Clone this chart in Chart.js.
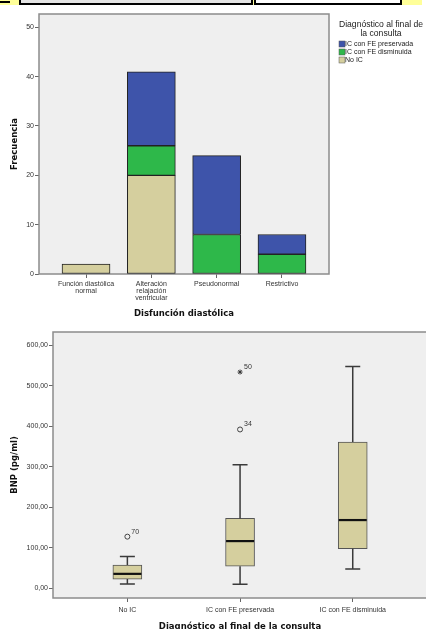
<!DOCTYPE html>
<html>
<head>
<meta charset="utf-8">
<script src="https://cdn.jsdelivr.net/npm/chart.js@4.4.0/dist/chart.umd.min.js"></script>
<style>
body { margin: 0; background: #fff; width: 426px; height: 629px; overflow: hidden; position: relative; }
canvas { position: absolute; left: 0; }
#bars { top: 0; }
#boxes { top: 320px; }
#strip { position: absolute; left: 0; top: 0; width: 422px; height: 5px; background: #ffff99; z-index: 2; }
#strip div { position: absolute; top: 0; height: 3px; border-bottom: 2px solid #000; }
</style>
</head>
<body>
<div id="strip">
    <div style="left:0;width:10px;height:2px;top:1px;background:#000;border:0"></div>
    <div style="left:19px;width:141px;background:#e4e4e4;border-left:2px solid #000;border-right:2px solid #000"></div>
    <div style="left:162px;width:89px;background:#e4e4e4;border-right:2px solid #000"></div>
    <div style="left:254px;width:61px;background:#fff;border-left:2px solid #000;border-right:2px solid #000"></div>
    <div style="left:317px;width:83px;background:#fff;border-right:2px solid #000"></div>
</div>
<canvas id="bars" width="426" height="320"></canvas>
<canvas id="boxes" width="432" height="315"></canvas>
<script>

/* =================================================================
    Data
================================================================= */

var categories = [
    ["Función diastólica", "normal"],
    ["Alteración", "relajación", "ventricular"],
    "Pseudonormal",
    "Restrictivo"
];
var noIC = [2, 20, 0, 0];
var icDisminuida = [0, 6, 8, 4];
var icPreservada = [0, 15, 16, 4];
var freqTicks = [0, 10, 20, 30, 40, 50];

var groups = ["No IC", "IC con FE preservada", "IC con FE disminuida"];
var whiskerLow = [10, 9, 47];
var boxLow = [22, 54, 97];
var medians = [35, 116, 168];
var boxHigh = [57, 172, 361];
var whiskerHigh = [78, 305, 548];
var mildGroup = [0, 1];
var mildValue = [127, 392];
var mildCase = ["70", "34"];
var extremeGroup = [1];
var extremeValue = [534];
var extremeCase = ["50"];
var bnpTicks = [0, 100, 200, 300, 400, 500, 600];

Chart.defaults.font.family = '"Liberation Sans", Arial, sans-serif';
Chart.defaults.color = '#333';

var titleFont = { family: '"DejaVu Sans", Verdana, sans-serif', size: 8.5, weight: 'bold' };
var tickFont = { size: 7, lineHeight: 0.96 };
var tickGrid = { display: true, offset: false, drawOnChartArea: false, drawTicks: true, tickLength: 4, color: '#666' };

var plotFrame = {
    id: 'plotFrame',
    beforeDatasetsDraw: function (chart) {
        var a = chart.chartArea, c = chart.ctx;
        c.save();
        c.fillStyle = '#efefef';
        c.fillRect(a.left, a.top, a.right - a.left, a.bottom - a.top);
        c.strokeStyle = '#8c8c8c';
        c.lineWidth = 1.5;
        c.strokeRect(a.left, a.top, a.right - a.left, a.bottom - a.top);
        c.restore();
    }
};

/* =================================================================
    Stacked bar chart
================================================================= */

var sideLegend = {
    id: 'sideLegend',
    afterDraw: function (chart) {
        var c = chart.ctx;
        var cx = chart.chartArea.right + 52;
        var lx = chart.chartArea.right + 10;
        c.save();
        c.fillStyle = '#222';
        c.textBaseline = 'middle';
        c.textAlign = 'center';
        c.font = '8.6px "Liberation Sans"';
        c.fillText('Diagnóstico al final de', cx, 25);
        c.fillText('la consulta', cx, 34);
        c.textAlign = 'left';
        c.font = '7px "Liberation Sans"';
        chart.data.datasets.slice().reverse().forEach(function (d, i) {
            var y = 44 + i * 8;
            c.fillStyle = d.backgroundColor;
            c.fillRect(lx, y - 3, 6, 6);
            c.strokeStyle = '#555';
            c.lineWidth = 0.5;
            c.strokeRect(lx, y - 3, 6, 6);
            c.fillStyle = '#222';
            c.fillText(d.label, lx + 6, y);
        });
        c.restore();
    }
};

function barData(values) {
    return values.map(function (v, i) { return { x: i, y: v }; });
}

var barChart = new Chart(document.getElementById("bars"), {
    type: 'bar',
    data: {
        datasets: [
            { label: 'No IC', data: barData(noIC), backgroundColor: '#d5cf9e' },
            { label: 'IC con FE disminuida', data: barData(icDisminuida), backgroundColor: '#2eb84a' },
            { label: 'IC con FE preservada', data: barData(icPreservada), backgroundColor: '#3e54aa' }
        ]
    },
    options: {
        responsive: false,
        animation: false,
        devicePixelRatio: 1,
        layout: { padding: { top: 14, right: 97, left: 0, bottom: 0 } },
        datasets: { bar: { barThickness: 48, borderColor: '#222', borderWidth: 1, borderSkipped: false } },
        plugins: { legend: { display: false }, tooltip: { enabled: false } },
        scales: {
            x: {
                type: 'linear',
                stacked: true,
                offset: false,
                min: -0.72,
                max: 3.72,
                afterBuildTicks: function (s) {
                    s.ticks = categories.map(function (c, i) { return { value: i }; });
                },
                afterFit: function (s) { s.height = 46; },
                ticks: {
                    font: tickFont,
                    padding: 3,
                    autoSkip: false,
                    maxRotation: 0,
                    callback: function (v) { return categories[v]; }
                },
                grid: tickGrid,
                border: { display: false },
                title: { display: true, text: 'Disfunción diastólica', font: titleFont, color: '#111', padding: { top: 4, bottom: 1 } }
            },
            y: {
                stacked: true,
                min: 0,
                max: 52.7,
                afterBuildTicks: function (s) {
                    s.ticks = freqTicks.map(function (v) { return { value: v }; });
                },
                afterFit: function (s) { s.width = 39; },
                ticks: { font: tickFont, padding: 1 },
                grid: tickGrid,
                border: { display: false },
                title: { display: true, text: 'Frecuencia', font: titleFont, color: '#111', padding: { top: 10, bottom: 2 } }
            }
        }
    },
    plugins: [plotFrame, sideLegend]
});

/* =================================================================
    Box plot
================================================================= */

var boxWhiskers = {
    id: 'boxWhiskers',
    afterDatasetsDraw: function (chart) {
        var xs = chart.scales.x, ys = chart.scales.y, c = chart.ctx;
        c.save();
        groups.forEach(function (g, i) {
            var px = xs.getPixelForValue(i);
            var hi = ys.getPixelForValue(whiskerHigh[i]);
            var lo = ys.getPixelForValue(whiskerLow[i]);
            c.strokeStyle = '#3a3a3a';
            c.lineWidth = 1.5;
            c.beginPath();
            c.moveTo(px, ys.getPixelForValue(boxHigh[i]));
            c.lineTo(px, hi);
            c.moveTo(px, ys.getPixelForValue(boxLow[i]));
            c.lineTo(px, lo);
            c.moveTo(px - 7.5, hi);
            c.lineTo(px + 7.5, hi);
            c.moveTo(px - 7.5, lo);
            c.lineTo(px + 7.5, lo);
            c.stroke();
            var md = ys.getPixelForValue(medians[i]);
            c.strokeStyle = '#111';
            c.lineWidth = 2.2;
            c.beginPath();
            c.moveTo(px - 14, md);
            c.lineTo(px + 14, md);
            c.stroke();
        });
        c.fillStyle = '#333';
        c.font = '7px "Liberation Sans"';
        c.textAlign = 'left';
        c.textBaseline = 'middle';
        mildGroup.forEach(function (g, i) {
            c.fillText(mildCase[i], xs.getPixelForValue(g) + 4, ys.getPixelForValue(mildValue[i]) - 5);
        });
        extremeGroup.forEach(function (g, i) {
            c.fillText(extremeCase[i], xs.getPixelForValue(g) + 4, ys.getPixelForValue(extremeValue[i]) - 5);
        });
        c.restore();
    }
};

var boxChart = new Chart(document.getElementById("boxes"), {
    type: 'bar',
    data: {
        datasets: [
            {
                type: 'bar',
                data: groups.map(function (g, i) { return { x: i, y: [boxLow[i], boxHigh[i]] }; }),
                backgroundColor: '#d5cf9e',
                borderColor: '#555',
                borderWidth: 1,
                borderSkipped: false,
                barThickness: 29
            },
            {
                type: 'scatter',
                data: mildGroup.map(function (g, i) { return { x: g, y: mildValue[i] }; }),
                pointStyle: 'circle',
                pointRadius: 2.5,
                borderColor: '#444',
                borderWidth: 1,
                backgroundColor: 'rgba(0,0,0,0)'
            },
            {
                type: 'scatter',
                data: extremeGroup.map(function (g, i) { return { x: g, y: extremeValue[i] }; }),
                pointStyle: 'star',
                pointRadius: 2.5,
                borderColor: '#333',
                borderWidth: 1
            }
        ]
    },
    options: {
        responsive: false,
        animation: false,
        devicePixelRatio: 1,
        layout: { padding: { top: 12, right: 4, left: 0, bottom: 0 } },
        plugins: { legend: { display: false }, tooltip: { enabled: false } },
        scales: {
            x: {
                type: 'linear',
                offset: false,
                min: -0.66,
                max: 2.659,
                afterBuildTicks: function (s) {
                    s.ticks = groups.map(function (g, i) { return { value: i }; });
                },
                afterFit: function (s) { s.height = 37; },
                ticks: {
                    font: tickFont,
                    padding: 5,
                    autoSkip: false,
                    maxRotation: 0,
                    callback: function (v) { return groups[v]; }
                },
                grid: tickGrid,
                border: { display: false },
                title: { display: true, text: 'Diagnóstico al final de la consulta', font: titleFont, color: '#111', padding: { top: 2, bottom: 3 } }
            },
            y: {
                min: -24.7,
                max: 633,
                afterBuildTicks: function (s) {
                    s.ticks = bnpTicks.map(function (v) { return { value: v }; });
                },
                afterFit: function (s) { s.width = 53; },
                ticks: {
                    font: tickFont,
                    padding: 1,
                    callback: function (v) { return v.toFixed(2).replace('.', ','); }
                },
                grid: tickGrid,
                border: { display: false },
                title: { display: true, text: 'BNP (pg/ml)', font: titleFont, color: '#111', padding: { top: 10, bottom: 2 } }
            }
        }
    },
    plugins: [plotFrame, boxWhiskers]
});

</script>
</body>
</html>
